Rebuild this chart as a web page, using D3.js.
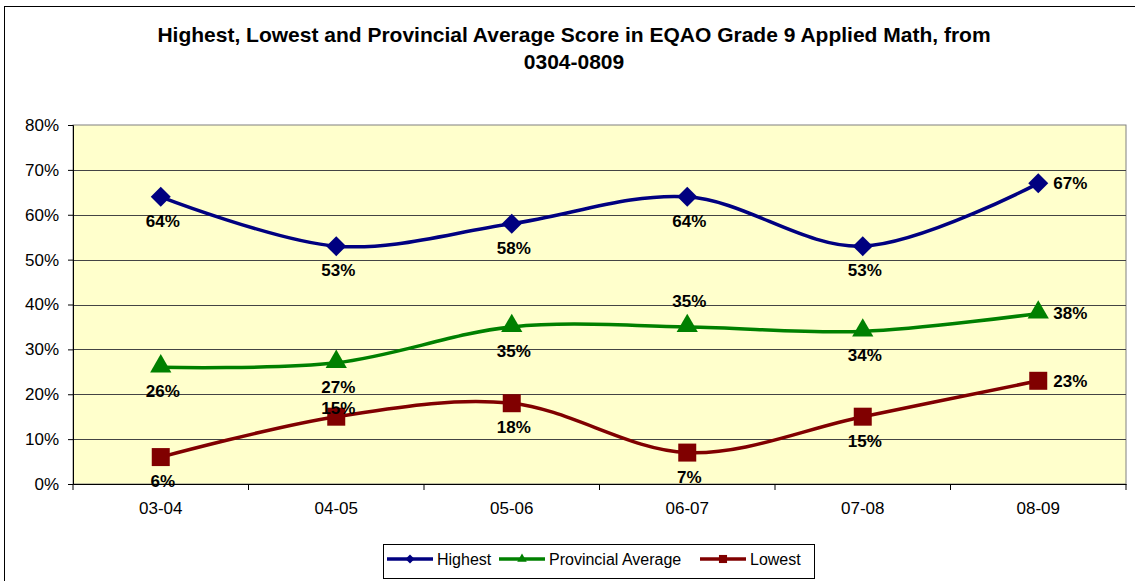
<!DOCTYPE html>
<html>
<head>
<meta charset="utf-8">
<script src="https://cdn.jsdelivr.net/npm/d3@7"></script>
<style>
  body { margin: 0; background: #fff; }
  text { font-family: "Liberation Sans", Arial, sans-serif; }
</style>
</head>
<body>
<div id="chart"></div>
<script>
// chart data
var seasons = ["03-04", "04-05", "05-06", "06-07", "07-08", "08-09"];
var highest = [0.64, 0.53, 0.58, 0.64, 0.53, 0.67];
var provincial = [0.26, 0.27, 0.35, 0.35, 0.34, 0.38];
var lowest = [0.06, 0.15, 0.18, 0.07, 0.15, 0.23];
var yTicks = [0, 0.1, 0.2, 0.3, 0.4, 0.5, 0.6, 0.7, 0.8];

//where each data label sits relative to its marker (b = below, a = above, r = right)
var labelSpots = {
    highest: ["b", "b", "b", "b", "b", "r"],
    provincial: ["b", "b", "b", "a", "b", "r"],
    lowest: ["b", "a", "b", "b", "b", "r"]
};

var series = [
    {key: "highest", name: "Highest", values: highest, color: "#000080", shape: "diamond"},
    {key: "provincial", name: "Provincial Average", values: provincial, color: "#008000", shape: "triangle"},
    {key: "lowest", name: "Lowest", values: lowest, color: "#800000", shape: "square"}
];

var width = 1135, height = 581;
var plot = {left: 73, right: 1126, top: 125, bottom: 484};

var svg = d3.select("#chart")
    .append("svg")
    .attr("width", width)
    .attr("height", height);

//outer chart border
svg.append("rect")
    .attr("x", 4.5).attr("y", 6.5)
    .attr("width", width + 10).attr("height", height + 10)
    .attr("fill", "#fff")
    .attr("stroke", "#000");

//title
svg.append("text")
    .attr("x", 574).attr("y", 42)
    .attr("text-anchor", "middle")
    .attr("font-weight", "bold")
    .attr("font-size", 21)
    .text("Highest, Lowest and Provincial Average Score in EQAO Grade 9 Applied Math, from");
svg.append("text")
    .attr("x", 574).attr("y", 69)
    .attr("text-anchor", "middle")
    .attr("font-weight", "bold")
    .attr("font-size", 21)
    .text("0304-0809");

var x = d3.scaleBand()
    .domain(seasons)
    .range([plot.left, plot.right]);

var y = d3.scaleLinear()
    .domain([0, 0.8])
    .range([plot.bottom, plot.top]);

function cx(i) { return x(seasons[i]) + x.bandwidth() / 2; }

//plot area
svg.append("rect")
    .attr("x", plot.left).attr("y", plot.top)
    .attr("width", plot.right - plot.left).attr("height", plot.bottom - plot.top)
    .attr("fill", "#FFFFCC")
    .attr("stroke", "#808080");

//gridlines
svg.append("g")
    .selectAll("line")
    .data(yTicks.slice(1, -1))
    .enter().append("line")
    .attr("x1", plot.left).attr("x2", plot.right)
    .attr("y1", function(d) { return Math.round(y(d)) + 0.5; })
    .attr("y2", function(d) { return Math.round(y(d)) + 0.5; })
    .attr("stroke", "#444");

//y axis
var yAxis = svg.append("g")
    .attr("transform", "translate(" + plot.left + ",0)")
    .call(d3.axisLeft(y).tickValues(yTicks).tickFormat(d3.format(".0%")).tickSize(5).tickPadding(9));
yAxis.selectAll("text").attr("font-size", 17).attr("fill", "#000")
    .style("font-family", "'Liberation Sans', Arial, sans-serif");
yAxis.selectAll("line, path").attr("stroke", "#000");

//x axis, ticks between categories
var xAxis = svg.append("g")
    .attr("transform", "translate(0," + plot.bottom + ")")
    .call(d3.axisBottom(x).tickSize(0).tickPadding(18));
xAxis.selectAll("text").attr("font-size", 17).attr("fill", "#000")
    .style("font-family", "'Liberation Sans', Arial, sans-serif");
xAxis.select(".domain").attr("stroke", "#000");
xAxis.selectAll(".sep")
    .data(seasons.concat(["end"]))
    .enter().append("line")
    .attr("class", "sep")
    .attr("x1", function(d, i) { return plot.left + i * x.bandwidth(); })
    .attr("x2", function(d, i) { return plot.left + i * x.bandwidth(); })
    .attr("y1", 0).attr("y2", 6)
    .attr("stroke", "#000");

function markerPath(shape, big) {
    var s = big ? 1 : 0.45;
    if (shape == "diamond")
        return d3.symbol().type(d3.symbolSquare).size(200 * s * s)();
    if (shape == "triangle")
        return d3.symbol().type(d3.symbolTriangle).size(195 * s * s)();
    return d3.symbol().type(d3.symbolSquare).size(324 * s * s)();
}

var line = d3.line()
    .x(function(d, i) { return cx(i); })
    .y(function(d) { return y(d); })
    .curve(d3.curveCardinal.tension(0));

series.forEach(function(s) {
    svg.append("path")
        .datum(s.values)
        .attr("fill", "none")
        .attr("stroke", s.color)
        .attr("stroke-width", 3.5)
        .attr("d", line);

    svg.append("g")
        .selectAll("path")
        .data(s.values)
        .enter().append("path")
        .attr("d", markerPath(s.shape, true))
        .attr("fill", s.color)
        .attr("transform", function(d, i) {
            var t = "translate(" + cx(i) + "," + y(d) + ")";
            if (s.shape == "diamond") t += " rotate(45)";
            if (s.shape == "triangle") t += " translate(0,-1)";
            return t;
        });

    svg.append("g")
        .selectAll("text")
        .data(s.values)
        .enter().append("text")
        .attr("font-size", 17)
        .attr("font-weight", "bold")
        .attr("fill", "#000")
        .attr("text-anchor", function(d, i) { return labelSpots[s.key][i] == "r" ? "start" : "middle"; })
        .attr("x", function(d, i) { return labelSpots[s.key][i] == "r" ? cx(i) + 15 : cx(i) + 2; })
        .attr("y", function(d, i) {
            var spot = labelSpots[s.key][i];
            if (spot == "r") return y(d) + 6;
            if (spot == "a") return y(d) - (s.key == "lowest" ? 3 : 20);
            return y(d) + 30;
        })
        .text(function(d) { return d3.format(".0%")(d); });
});

//legend
var legend = svg.append("g").attr("transform", "translate(383,544)");
legend.append("rect")
    .attr("x", 0.5).attr("y", 0.5)
    .attr("width", 431).attr("height", 34)
    .attr("fill", "#fff")
    .attr("stroke", "#000");

var legendX = [4, 116, 317];
series.forEach(function(s, i) {
    var g = legend.append("g").attr("transform", "translate(" + legendX[i] + ",15)");
    g.append("line")
        .attr("x1", 0).attr("x2", 46)
        .attr("stroke", s.color)
        .attr("stroke-width", 3.5);
    g.append("path")
        .attr("d", markerPath(s.shape, false))
        .attr("fill", s.color)
        .attr("transform", "translate(23,0)" + (s.shape == "diamond" ? " rotate(45)" : ""));
    g.append("text")
        .attr("x", 50).attr("y", 6)
        .attr("font-size", 16)
        .attr("fill", "#000")
        .text(s.name);
});
</script>
</body>
</html>
